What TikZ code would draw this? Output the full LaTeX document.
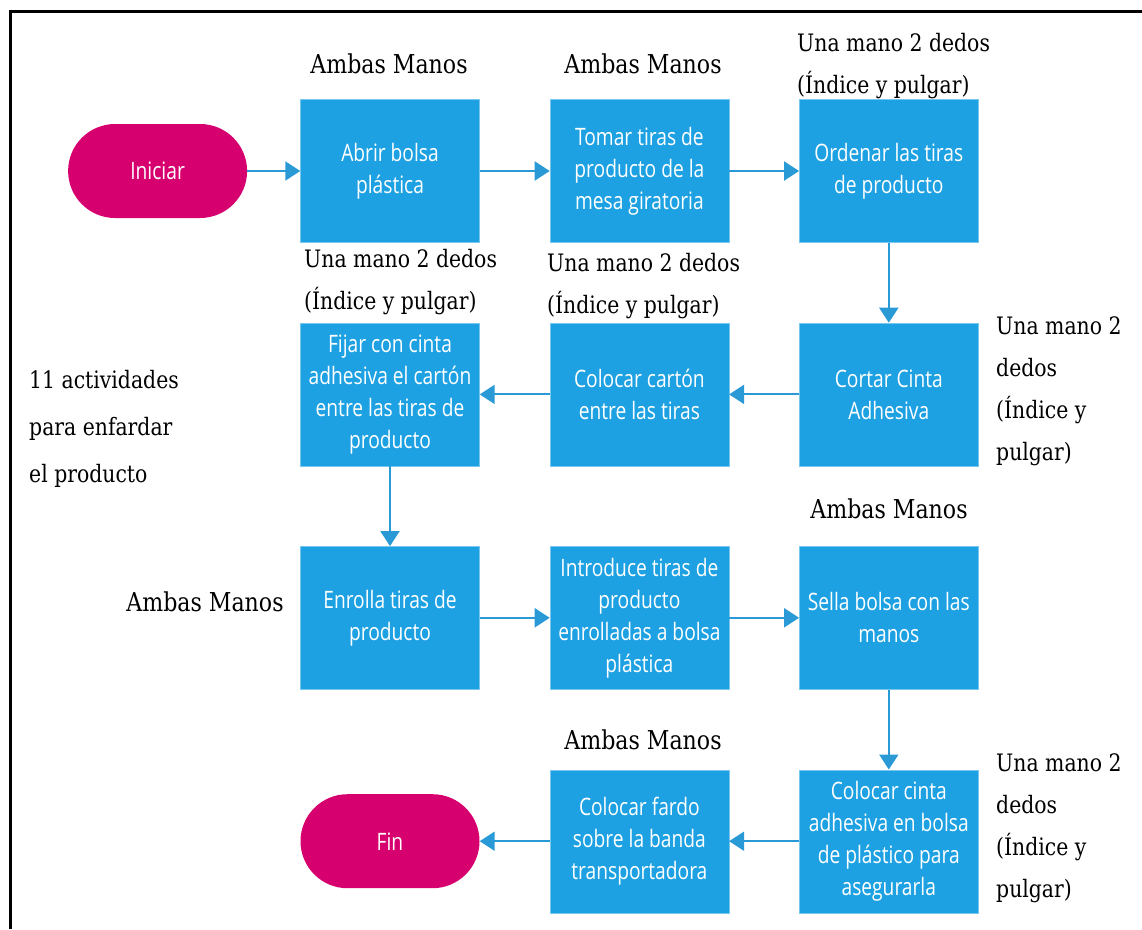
\documentclass[tikz,border=0pt]{standalone}
\usepackage{fontspec}
\setmainfont{DejaVu Serif}[FakeStretch=0.85]
\newfontfamily\boxfont{Open Sans}[FakeStretch=0.8]
\usetikzlibrary{arrows.meta,positioning}
\definecolor{procblue}{HTML}{1DA1E2}
\definecolor{flowblue}{HTML}{2A9AD7}
\definecolor{termpink}{HTML}{D6006E}

\begin{document}
\begin{tikzpicture}[x=1pt, y=-1pt, node distance=80pt and 70pt,
  proc/.style={rectangle, draw=procblue!60!white, fill=procblue, text=white, minimum width=179pt, minimum height=143pt, inner sep=0pt, align=center, font=\boxfont\fontsize{24}{32}\selectfont},
  term/.style={rectangle, rounded corners=47pt, fill=termpink, text=white, minimum width=179pt, minimum height=94pt, inner sep=0pt, font=\boxfont\fontsize{24}{32}\selectfont},
  hands/.style={inner sep=0pt, align=left, font=\fontsize{24}{42}\selectfont},
  both/.style={hands, font=\fontsize{26}{42}\selectfont},
  flow/.style={draw=flowblue, line width=2pt, -{Triangle[length=15pt,width=19pt]}}]
  \useasboundingbox (0,0) rectangle (1142,929);
  \draw[line width=3pt] (10,929) -- (10,11) -- (1145,11);

  % row 1
  \node[proc] (abrir) at (390,171) {Abrir bolsa\\pl\'astica};
  \node[term, left=53pt of abrir] (iniciar) {Iniciar};
  \node[proc, right=of abrir] (tomar) {Tomar tiras de\\producto de la\\mesa giratoria};
  \node[proc, right=of tomar] (ordenar) {Ordenar las tiras\\de producto};
  % row 2
  \node[proc, below=of ordenar] (cortar) {Cortar Cinta\\Adhesiva};
  \node[proc, left=of cortar] (carton) {Colocar cart\'on\\entre las tiras};
  \node[proc, left=of carton] (fijar) {Fijar con cinta\\adhesiva el cart\'on\\entre las tiras de\\producto};
  % row 3
  \node[proc, below=of fijar] (enrolla) {Enrolla tiras de\\producto};
  \node[proc, right=of enrolla] (introduce) {Introduce tiras de\\producto\\enrolladas a bolsa\\pl\'astica};
  \node[proc, right=of introduce] (sella) {Sella bolsa con las\\manos};
  % row 4
  \node[proc, below=of sella] (cinta) {Colocar cinta\\adhesiva en bolsa\\de pl\'astico para\\asegurarla};
  \node[proc, left=of cinta] (fardo) {Colocar fardo\\sobre la banda\\transportadora};
  \node[term, left=of fardo] (fin) {Fin};

  % hand labels
  \node[both] (h1) at (389,64) {Ambas Manos};
  \node[both] (h2) at (643,64) {Ambas Manos};
  \node[hands, anchor=west] (h3) at (797,66) {Una mano 2 dedos\\(\'Indice y pulgar)};
  \node[hands, anchor=west] (h4) at (304,282) {Una mano 2 dedos\\(\'Indice y pulgar)};
  \node[hands, anchor=west] (h5) at (547,286) {Una mano 2 dedos\\(\'Indice y pulgar)};
  \node[hands, anchor=west] (h6) at (996,391) {Una mano 2\\dedos\\(\'Indice y\\pulgar)};
  \node[hands, anchor=west, font=\fontsize{24}{47}\selectfont] (total) at (29,429) {11 actividades\\para enfardar\\el producto};
  \node[both] (h7) at (205,602) {Ambas Manos};
  \node[both] (h8) at (889,509) {Ambas Manos};
  \node[both] (h9) at (643,740) {Ambas Manos};
  \node[hands, anchor=west] (h10) at (996,828) {Una mano 2\\dedos\\(\'Indice y\\pulgar)};

  \draw[flow] (iniciar) -- (abrir);
  \draw[flow] (abrir) -- (tomar);
  \draw[flow] (tomar) -- (ordenar);
  \draw[flow] (ordenar) -- (cortar);
  \draw[flow] (cortar) -- (carton);
  \draw[flow] (carton) -- (fijar);
  \draw[flow] (fijar) -- (enrolla);
  \draw[flow] (enrolla) -- (introduce);
  \draw[flow] (introduce) -- (sella);
  \draw[flow] (sella) -- (cinta);
  \draw[flow] (cinta) -- (fardo);
  \draw[flow] (fardo) -- (fin);
\end{tikzpicture}
\end{document}
